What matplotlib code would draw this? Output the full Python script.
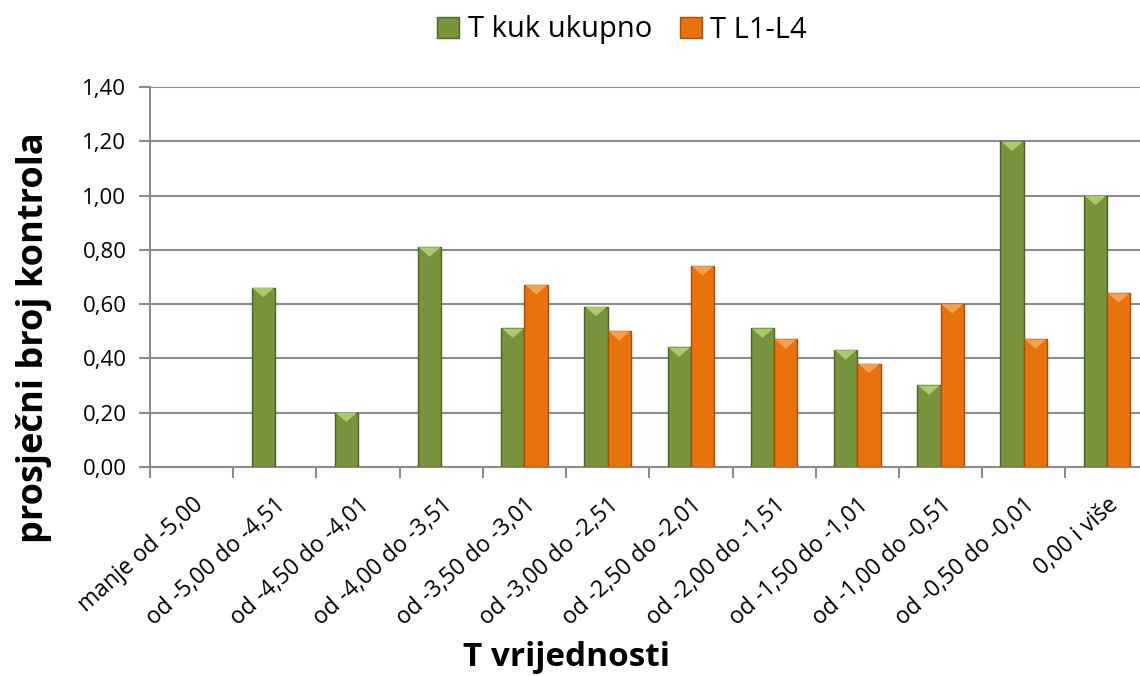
import matplotlib.pyplot as plt
from matplotlib.patches import Polygon
from matplotlib.transforms import ScaledTranslation
import numpy as np

# Categories (T value ranges) and average counts per series
categories = ['manje od -5,00', 'od -5,00 do -4,51', 'od -4,50 do -4,01',
              'od -4,00 do -3,51', 'od -3,50 do -3,01', 'od -3,00 do -2,51',
              'od -2,50 do -2,01', 'od -2,00 do -1,51', 'od -1,50 do -1,01',
              'od -1,00 do -0,51', 'od -0,50 do -0,01', '0,00 i više']
t_kuk = [0.0, 0.66, 0.20, 0.81, 0.51, 0.59, 0.44, 0.51, 0.43, 0.30, 1.20, 1.00]
t_l1l4 = [0.0, 0.0, 0.0, 0.0, 0.67, 0.50, 0.74, 0.47, 0.38, 0.60, 0.47, 0.64]
yticks = [0.0, 0.2, 0.4, 0.6, 0.8, 1.0, 1.2, 1.4]

plt.rcParams['font.family'] = ['Open Sans', 'DejaVu Sans']

fig = plt.figure(figsize=(11.4, 6.76), dpi=100)
ax = fig.add_axes([150 / 1140, 1 - 466.7 / 676, 998.6 / 1140, 379.4 / 676])

x = np.arange(len(categories))
w = 0.28
# empty categories draw nothing (no edge sliver)
kuk = np.where(np.array(t_kuk) == 0, np.nan, t_kuk)
l1l4 = np.where(np.array(t_l1l4) == 0, np.nan, t_l1l4)
bars_g = ax.bar(x - 0.14, kuk, w, color='#77933C', edgecolor='#4F6228',
                linewidth=1.0, label='T kuk ukupno', zorder=3)
bars_o = ax.bar(x + 0.14, l1l4, w, color='#E8720C', edgecolor='#A84E05',
                linewidth=1.0, label='T L1-L4', zorder=3)

# bevel highlight at the top of each bar
for bars, light in [(bars_g, '#A9CB6A'), (bars_o, '#F7A04E')]:
    for b in bars:
        h = b.get_height()
        if not np.isfinite(h) or h <= 0:
            continue
        x0, bw = b.get_x(), b.get_width()
        tri = Polygon([(x0 + 0.01, h), (x0 + bw - 0.01, h),
                       (x0 + bw / 2, h - 0.035)], closed=True,
                      facecolor=light, edgecolor='none', zorder=4)
        ax.add_patch(tri)

ax.set_xlim(-0.5, len(categories) - 0.5)
ax.set_ylim(0, 1.4)
ax.set_yticks(yticks)
ax.set_yticklabels([f'{v:.2f}'.replace('.', ',') for v in yticks], fontsize=16)
ax.yaxis.grid(True, color='#8C8C8C', linewidth=1.5, zorder=0)
ax.set_axisbelow(True)

ax.set_xticks(x)
ax.set_xticklabels(categories, rotation=42, ha='right', rotation_mode='anchor',
                   fontsize=16.5)
shift = ScaledTranslation(-10 / 100, 0, fig.dpi_scale_trans)
for lbl in ax.get_xticklabels():
    lbl.set_transform(lbl.get_transform() + shift)
ax.set_xticks(np.arange(len(categories) + 1) - 0.5, minor=True)
ax.tick_params(axis='x', which='major', length=0, pad=19)
ax.tick_params(axis='x', which='minor', length=8, color='#8C8C8C', width=1.5)
ax.tick_params(axis='y', length=8, color='#8C8C8C', width=1.5, pad=9)

for s in ['top', 'right']:
    ax.spines[s].set_visible(False)
for s in ['left', 'bottom']:
    ax.spines[s].set_color('#8C8C8C')
    ax.spines[s].set_linewidth(1.5)

fig.text(34 / 1140, 1 - 338 / 676, 'prosječni broj kontrola', rotation=90,
         ha='center', va='center', fontsize=26, fontweight='bold')
fig.text(566 / 1140, 1 - 658 / 676, 'T vrijednosti', ha='center', va='center',
         fontsize=24, fontweight='bold')

fig.legend(loc='center', bbox_to_anchor=(622 / 1140, 1 - 30 / 676), ncol=2,
           frameon=False, fontsize=21, handlelength=0.75, handleheight=0.75,
           handletextpad=0.3, columnspacing=0.95)

fig.savefig('out.png', dpi=100)
